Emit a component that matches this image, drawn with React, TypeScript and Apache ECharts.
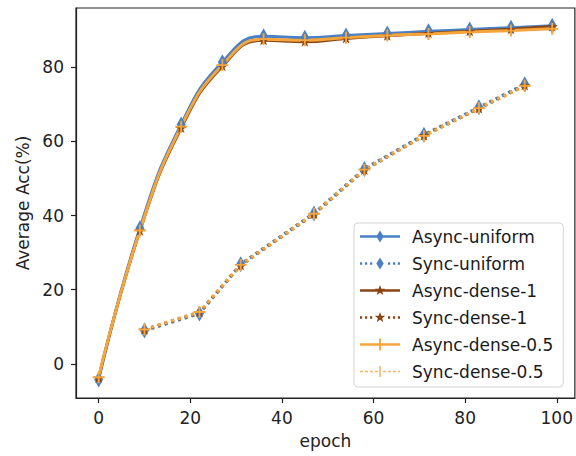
import React, { useEffect, useRef } from "react";
import * as echarts from "echarts";

const epochs = [0, 9, 18, 27, 36, 45, 54, 63, 72, 81, 90, 99];
const asyncUniform = [-4.2, 36.6, 64.6, 81.4, 88.4, 88.0, 88.6, 89.1, 89.7, 90.2, 90.7, 91.2];
const asyncDense1 = [-3.8, 35.9, 63.6, 80.3, 87.3, 86.9, 87.8, 88.5, 89.2, 89.7, 90.3, 91.0];
const asyncDense05 = [-3.6, 36.0, 64.0, 80.6, 87.6, 87.3, 88.0, 88.6, 89.0, 89.5, 89.9, 90.4];

const syncEpochs = [10, 22, 31, 47, 58, 71, 83, 93];
const syncUniform = [9.0, 13.6, 26.9, 40.6, 52.6, 61.8, 69.2, 75.4];
const syncDense1 = [9.2, 13.9, 26.6, 40.4, 52.3, 61.6, 68.9, 75.1];
const syncDense05 = [9.3, 14.0, 26.7, 40.5, 52.4, 61.5, 69.0, 75.0];

const seriesNames = [
  "Async-uniform",
  "Sync-uniform",
  "Async-dense-1",
  "Sync-dense-1",
  "Async-dense-0.5",
  "Sync-dense-0.5",
];
const xTicks = [0, 20, 40, 60, 80, 100];
const yTicks = [0, 20, 40, 60, 80];

const BLUE = "#4a80c4";
const BROWN = "#8b4513";
const ORANGE = "#f5a53c";
const FONT = "DejaVu Sans";

const STAR =
  "path://M50,0 L61.2,34.5 L97.6,34.5 L68.2,55.9 L79.4,90.5 L50,69.1 L20.6,90.5 L31.8,55.9 L2.4,34.5 L38.8,34.5 Z";
const PLUS =
  "path://M4.2,0 L5.8,0 L5.8,4.2 L10,4.2 L10,5.8 L5.8,5.8 L5.8,10 L4.2,10 L4.2,5.8 L0,5.8 L0,4.2 L4.2,4.2 Z";

const rect = (x1: number, y1: number, x2: number, y2: number) =>
  `M${x1},${y1} L${x2},${y1} L${x2},${y2} L${x1},${y2} Z `;
const ANCHOR = "M0,0 M47,14 ";
const solidLine = rect(0, 5.7, 40, 8.3);
const dots = [0, 5, 10, 28, 33, 37.8].map((x) => rect(x, 5.8, x + 2.2, 8.2)).join("");
const dashes = [0, 5, 10, 15, 23, 28, 33, 38].map((x) => rect(x, 6.3, Math.min(x + 3, 40), 7.7)).join("");
const diamond = "M20,1 L23.7,7 L20,13 L16.3,7 Z ";
const star =
  "M20,1.5 L21.35,5.14 L25.23,5.3 L22.19,7.71 L23.23,11.45 L20,9.3 L16.77,11.45 L17.81,7.71 L14.77,5.3 L18.65,5.14 Z ";
const plusBar = rect(19.1, 1, 20.9, 13);
const plusBarThin = rect(19.2, 1.5, 20.8, 12.5);

const legendIcons = [
  "path://" + ANCHOR + solidLine + diamond,
  "path://" + ANCHOR + dots + diamond,
  "path://" + ANCHOR + solidLine + star,
  "path://" + ANCHOR + dots + star,
  "path://" + ANCHOR + solidLine + plusBar,
  "path://" + ANCHOR + dashes + plusBarThin,
];

export default function App() {
  const ref = useRef<HTMLDivElement>(null);
  useEffect(() => {
    if (!ref.current) return;
    const chart = echarts.init(ref.current, undefined, { renderer: "svg" });
    const asyncData = (ys: number[]) => epochs.map((x, i) => [x, ys[i]]);
    const syncData = (ys: number[]) => syncEpochs.map((x, i) => [x, ys[i]]);
    const axisColor = "#222";
    const asyncSeries = (name: string, ys: number[], color: string, symbol: string, size: any) => ({
      name,
      type: "line",
      data: asyncData(ys),
      smooth: 0.5,
      symbol,
      symbolSize: size,
      showSymbol: true,
      lineStyle: { color, width: 3 },
      itemStyle: { color, borderWidth: 0 },
      emphasis: { disabled: true },
    });
    const syncSeries = (name: string, ys: number[], color: string, symbol: string, size: any) => ({
      name,
      type: "line",
      data: syncData(ys),
      symbol,
      symbolSize: size,
      showSymbol: true,
      lineStyle: { color, width: 3.3, type: [3, 4] },
      itemStyle: { color, borderWidth: 0 },
      emphasis: { disabled: true },
    });
    chart.setOption({
      animation: false,
      grid: {
        left: 76,
        top: 8,
        width: 501,
        height: 390,
        show: true,
        borderColor: axisColor,
        borderWidth: 1.2,
        backgroundColor: "transparent",
      },
      xAxis: {
        type: "value",
        min: -4.95,
        max: 103.95,
        splitLine: { show: false },
        axisLine: { show: true, onZero: false, lineStyle: { color: axisColor, width: 1.2 } },
        axisTick: { show: true, customValues: xTicks, length: 5, lineStyle: { color: axisColor, width: 1.2 } },
        axisLabel: { customValues: xTicks, margin: 11, fontSize: 17, color: axisColor, fontFamily: FONT },
        name: "epoch",
        nameLocation: "middle",
        nameGap: 34,
        nameTextStyle: { fontSize: 17, color: axisColor, fontFamily: FONT },
      },
      yAxis: {
        type: "value",
        min: -9.2,
        max: 96,
        splitLine: { show: false },
        axisLine: { show: true, onZero: false, lineStyle: { color: axisColor, width: 1.2 } },
        axisTick: { show: true, customValues: yTicks, length: 5, lineStyle: { color: axisColor, width: 1.2 } },
        axisLabel: { customValues: yTicks, margin: 12, fontSize: 17, color: axisColor, fontFamily: FONT },
        name: "Average Acc(%)",
        nameLocation: "middle",
        nameGap: 44,
        nameTextStyle: { fontSize: 17, color: axisColor, fontFamily: FONT },
      },
      legend: {
        orient: "vertical",
        left: 354,
        top: 223,
        padding: [5, 10, 7, 6],
        itemGap: 10,
        itemWidth: 47,
        itemHeight: 14,
        borderColor: "#d4d4d4",
        borderWidth: 1,
        borderRadius: 4,
        backgroundColor: "rgba(255,255,255,0.85)",
        itemStyle: { borderWidth: 0 },
        textStyle: { fontSize: 17, color: "#1a1a1a", fontFamily: FONT, lineHeight: 17 },
        data: seriesNames.map((n, i) => ({
          name: n,
          icon: legendIcons[i],
          itemStyle: i === 5 ? { opacity: 0.8 } : undefined,
        })),
      },
      series: [
        asyncSeries(seriesNames[0], asyncUniform, BLUE, "diamond", [9, 16]),
        syncSeries(seriesNames[1], syncUniform, BLUE, "diamond", [9, 16]),
        asyncSeries(seriesNames[2], asyncDense1, BROWN, STAR, [11, 10]),
        syncSeries(seriesNames[3], syncDense1, BROWN, STAR, [11, 10]),
        asyncSeries(seriesNames[4], asyncDense05, ORANGE, PLUS, 12),
        syncSeries(seriesNames[5], syncDense05, ORANGE, PLUS, 12),
      ],
    });
    return () => chart.dispose();
  }, []);
  return (
    <div
      ref={ref}
      style={{ position: "fixed", left: 0, top: 0, width: 576, height: 456, background: "#fff" }}
    />
  );
}
